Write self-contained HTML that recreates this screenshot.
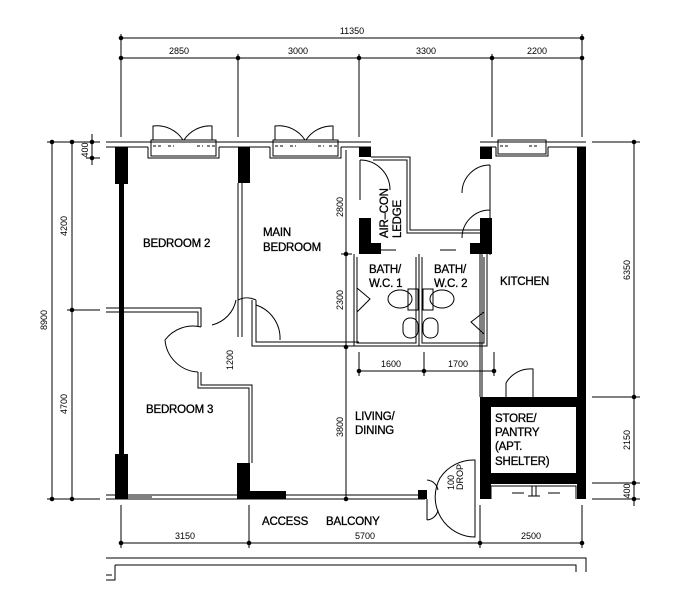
<!DOCTYPE html>
<html><head><style>
body{margin:0;background:#fff;}
svg{display:block;}
text{font-family:"Liberation Sans",sans-serif;fill:#000;}
.t{font-size:11.5px;letter-spacing:-0.2px;}
.d{font-size:9px;}
</style></head><body>
<svg width="682" height="600" viewBox="0 0 682 600" xmlns="http://www.w3.org/2000/svg" fill="none" stroke="#000" stroke-width="1">
<line x1="121" y1="38" x2="582" y2="38"/>
<line x1="121" y1="58" x2="582" y2="58"/>
<g fill="#000"><circle cx="121" cy="38" r="1.8"/><circle cx="582" cy="38" r="1.8"/>
<circle cx="121" cy="58" r="1.8"/><circle cx="238" cy="58" r="1.8"/><circle cx="359" cy="58" r="1.8"/><circle cx="492" cy="58" r="1.8"/><circle cx="582" cy="58" r="1.8"/></g>
<line x1="121" y1="34" x2="121" y2="137"/><line x1="238" y1="54" x2="238" y2="137"/><line x1="359" y1="54" x2="359" y2="137"/><line x1="492" y1="54" x2="492" y2="137"/><line x1="582" y1="34" x2="582" y2="137"/>
<g stroke="none">
<text class="d" x="352" y="34" text-anchor="middle">11350</text>
<text class="d" x="179" y="54" text-anchor="middle">2850</text>
<text class="d" x="298" y="54" text-anchor="middle">3000</text>
<text class="d" x="426" y="54" text-anchor="middle">3300</text>
<text class="d" x="537" y="54" text-anchor="middle">2200</text>
</g>
<line x1="52" y1="142" x2="52" y2="499"/><line x1="72" y1="142" x2="72" y2="499"/>
<line x1="47" y1="142" x2="100" y2="142"/><line x1="47" y1="499" x2="100" y2="499"/><line x1="67" y1="310" x2="100" y2="310"/>
<line x1="92" y1="134" x2="92" y2="165"/><line x1="86" y1="158" x2="100" y2="158"/>
<g fill="#000"><circle cx="52" cy="142" r="1.8"/><circle cx="52" cy="499" r="1.8"/><circle cx="72" cy="142" r="1.8"/><circle cx="72" cy="310" r="1.8"/><circle cx="72" cy="499" r="1.8"/><circle cx="92" cy="142" r="1.8"/><circle cx="92" cy="158" r="1.8"/></g>
<g stroke="none" class="d">
<text transform="translate(47,320) rotate(-90)" text-anchor="middle">8900</text>
<text transform="translate(67,226) rotate(-90)" text-anchor="middle">4200</text>
<text transform="translate(67,404) rotate(-90)" text-anchor="middle">4700</text>
<text transform="translate(88,150) rotate(-90)" text-anchor="middle">400</text>
</g>
<line x1="634" y1="142" x2="634" y2="506"/>
<line x1="592" y1="142" x2="640" y2="142"/><line x1="592" y1="397" x2="640" y2="397"/><line x1="592" y1="483" x2="640" y2="483"/><line x1="592" y1="499" x2="640" y2="499"/>
<g fill="#000"><circle cx="634" cy="142" r="1.8"/><circle cx="634" cy="397" r="1.8"/><circle cx="634" cy="483" r="1.8"/><circle cx="634" cy="499" r="1.8"/></g>
<g stroke="none" class="d">
<text transform="translate(630,270) rotate(-90)" text-anchor="middle">6350</text>
<text transform="translate(630,440) rotate(-90)" text-anchor="middle">2150</text>
<text transform="translate(630,491) rotate(-90)" text-anchor="middle">400</text>
</g>
<path d="M106 142 H371 M106 147 H148 M219 147 H270 M341 147 H371"/>
<path d="M480 142 H586 M480 147 H496 M548 147 H586"/>
<path d="M148 147 V158 H219 V147 M151 140 H216 V156 H151 Z"/>
<path d="M270 147 V158 H341 V147 M273 140 H338 V156 H273 Z"/>
<path d="M496 147 V156 H548 V147 M498 140 H546 V154 H498 Z"/>
<path d="M153 146 h8 M168 146 h6 M197 146 h6 M207 146 h8 M275 146 h8 M290 146 h6 M318 146 h6 M329 146 h8 M500 146 h8 M529 146 h8" stroke-dasharray="3 2"/>
<path d="M153 140 V126 A31 31 0 0 1 183 140 M212 140 V126 A31 31 0 0 0 184 140"/>
<path d="M275 140 V126 A31 31 0 0 1 305 140 M333 140 V126 A31 31 0 0 0 306 140"/>
<g fill="#000" stroke="none">
<rect x="115" y="147" width="13" height="37"/>
<rect x="119" y="184" width="5" height="270"/>
<rect x="115" y="454" width="13" height="45"/>
<rect x="238" y="147" width="12" height="36"/>
<rect x="237" y="463" width="13" height="36"/>
<rect x="237" y="491" width="49" height="8"/>
<rect x="359" y="147" width="12" height="10"/>
<rect x="359" y="218" width="12" height="36"/>
<rect x="359" y="243" width="22" height="11"/>
<rect x="480" y="147" width="12" height="12"/>
<rect x="480" y="218" width="12" height="36"/>
<rect x="470" y="243" width="22" height="11"/>
<rect x="577" y="147" width="9" height="352"/>
<rect x="480" y="397" width="106" height="102"/>
<rect x="418" y="490" width="9" height="9"/>
</g>
<rect x="491" y="407" width="85" height="66" fill="#fff" stroke="none"/>
<rect x="491" y="484" width="86" height="15" fill="#fff" stroke="none"/>
<path d="M491 499 V486 H576 V499 M532 486 V496 M536 486 V496 M528 496 H540 M512 493 H524 M548 493 H560"/>
<path d="M238 183 V337 M242 183 V337"/>
<path d="M346 150 V499"/>
<circle cx="346" cy="254" r="1.8" fill="#000"/><circle cx="346" cy="347" r="1.8" fill="#000"/><circle cx="346" cy="499" r="1.8" fill="#000"/>
<path d="M341 254 H352"/>
<path d="M106 308 H201 V327 M106 312 H198 V327"/>
<path d="M252 300 V346 H359 M256 300 V342 H359"/>
<path d="M198 372 V388 H249 V463 M201 372 V385 H252 V463"/>
<path d="M201 327 A35 35 0 0 0 165 340 A35 35 0 0 0 198 372"/>
<path d="M238 300 A20 20 0 0 1 256 300"/>
<path d="M256 305 A35 35 0 0 1 280 340"/>
<path d="M236 300 A32 32 0 0 1 212 325"/>
<path d="M106 495 H425 M106 499 H425 M128 497 H152"/>
<path d="M371 157 H410 V230 H480 M373 160 H407 V233 H480"/>
<path d="M360 160 V200 M360 160 A30 30 0 0 1 390 190"/>
<path d="M490 165 V210 M490 165 A28 28 0 0 0 462 193 M490 210 V255 M490 210 A28 28 0 0 0 462 238"/>
<path d="M354 254 V346 H487 V254 M357 257 V343 H416 V257 M422 257 V343 H484 V257 M419 254 V346"/>
<path d="M380 250 h16 M440 250 h16"/>
<path d="M357 288 L370 299 L357 312"/>
<path d="M484 312 L471 322 L484 334"/>
<ellipse cx="400" cy="299" rx="12" ry="9"/><rect x="408" y="289" width="10" height="21"/>
<ellipse cx="442" cy="299" rx="12" ry="9"/><rect x="423" y="289" width="10" height="21"/>
<rect x="403" y="318" width="15" height="20" rx="7"/><rect x="423" y="318" width="15" height="20" rx="7"/>
<line x1="359" y1="371" x2="494" y2="371"/>
<line x1="359" y1="352" x2="359" y2="376"/><line x1="424" y1="352" x2="424" y2="376"/><line x1="494" y1="352" x2="494" y2="376"/>
<g fill="#000"><circle cx="359" cy="371" r="1.8"/><circle cx="424" cy="371" r="1.8"/><circle cx="494" cy="371" r="1.8"/></g>
<path d="M480 254 V397 M482 254 V397"/>
<path d="M506 397 V383 A28 28 0 0 1 533 369 V397"/>
<path d="M475 499 V460 A40 40 0 0 0 440 478 A40 40 0 0 0 475 537 V499"/>
<path d="M427 480 A12 12 0 0 1 438 490 M427 520 A12 12 0 0 0 438 510 M427 499 V520"/>
<line x1="121" y1="543" x2="582" y2="543"/>
<line x1="121" y1="505" x2="121" y2="548"/><line x1="249" y1="505" x2="249" y2="548"/><line x1="480" y1="505" x2="480" y2="548"/><line x1="582" y1="505" x2="582" y2="548"/>
<g fill="#000"><circle cx="121" cy="543" r="1.8"/><circle cx="249" cy="543" r="1.8"/><circle cx="480" cy="543" r="1.8"/><circle cx="582" cy="543" r="1.8"/></g>
<path d="M106 558 H586 V572 M115 565 H576 V572 M115 565 V580 H106 M106 575 H112"/>
<g stroke="none" style="stroke:#000;stroke-width:0.3">
<text class="t" x="143" y="247">BEDROOM 2</text>
<text class="t" x="263" y="236">MAIN</text>
<text class="t" x="263" y="251">BEDROOM</text>
<text class="t" x="369" y="273">BATH/</text>
<text class="t" x="369" y="287">W.C. 1</text>
<text class="t" x="434" y="273">BATH/</text>
<text class="t" x="434" y="287">W.C. 2</text>
<text class="t" x="500" y="285">KITCHEN</text>
<text class="t" x="146" y="413">BEDROOM 3</text>
<text class="t" x="355" y="420">LIVING/</text>
<text class="t" x="355" y="434">DINING</text>
<text class="t" x="495" y="422">STORE/</text>
<text class="t" x="495" y="436">PANTRY</text>
<text class="t" x="495" y="450">(APT.</text>
<text class="t" x="495" y="465">SHELTER)</text>
<text class="t" x="262" y="525">ACCESS</text>
<text class="t" x="326" y="525">BALCONY</text>
<text class="t" transform="translate(388,238) rotate(-90)">AIR–CON</text>
<text class="t" transform="translate(401,238) rotate(-90)">LEDGE</text>
</g>
<g stroke="none">
<text class="d" transform="translate(454,490) rotate(-90)">100</text>
<text class="d" transform="translate(463,490) rotate(-90)">DROP</text>
<text class="d" transform="translate(343,207) rotate(-90)" text-anchor="middle">2800</text>
<text class="d" transform="translate(343,300) rotate(-90)" text-anchor="middle">2300</text>
<text class="d" transform="translate(343,427) rotate(-90)" text-anchor="middle">3800</text>
<text class="d" transform="translate(233,360) rotate(-90)" text-anchor="middle">1200</text>
<text class="d" x="391" y="367" text-anchor="middle">1600</text>
<text class="d" x="458" y="367" text-anchor="middle">1700</text>
<text class="d" x="185" y="539" text-anchor="middle">3150</text>
<text class="d" x="365" y="539" text-anchor="middle">5700</text>
<text class="d" x="531" y="539" text-anchor="middle">2500</text>
</g>
</svg>
</body></html>
